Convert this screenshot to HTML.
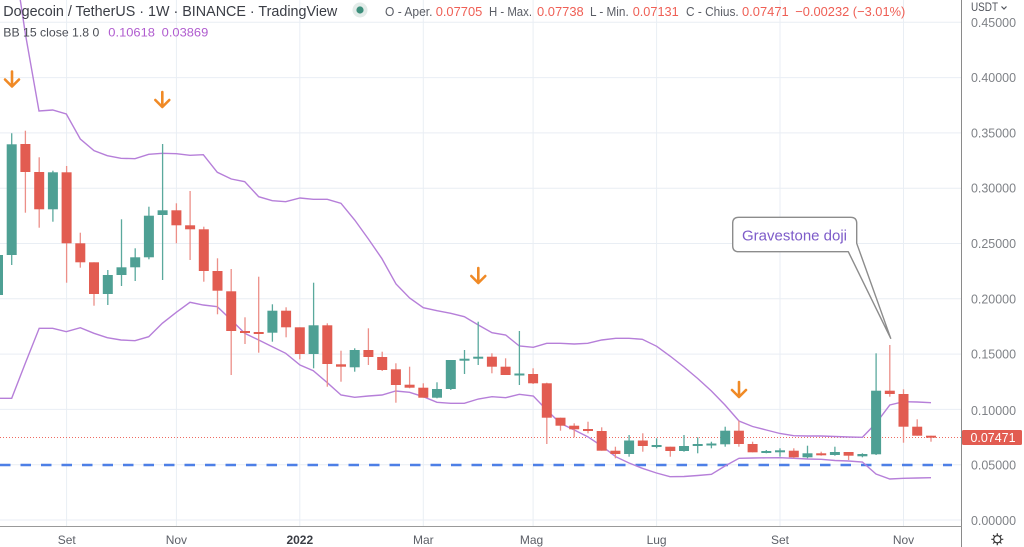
<!DOCTYPE html>
<html><head><meta charset="utf-8"><style>
html,body{margin:0;padding:0;background:#fff;}
svg{display:block;}
text{font-family:"Liberation Sans",Arial,sans-serif;}
</style></head><body>
<svg width="1024" height="547" viewBox="0 0 1024 547" xmlns="http://www.w3.org/2000/svg">
<rect width="1024" height="547" fill="#fff"/>
<!-- grid -->
<g stroke="#e9eef4" stroke-width="1">
<line x1="0" x2="961" y1="22.3" y2="22.3"/><line x1="0" x2="961" y1="77.6" y2="77.6"/>
<line x1="0" x2="961" y1="132.9" y2="132.9"/><line x1="0" x2="961" y1="188.2" y2="188.2"/>
<line x1="0" x2="961" y1="243.5" y2="243.5"/><line x1="0" x2="961" y1="298.8" y2="298.8"/>
<line x1="0" x2="961" y1="354.1" y2="354.1"/><line x1="0" x2="961" y1="409.4" y2="409.4"/>
<line x1="0" x2="961" y1="464.7" y2="464.7"/><line x1="0" x2="961" y1="520" y2="520"/>
<line x1="66.6" x2="66.6" y1="0" y2="526"/><line x1="176.4" x2="176.4" y1="0" y2="526"/>
<line x1="299.8" x2="299.8" y1="0" y2="526"/><line x1="423.3" x2="423.3" y1="0" y2="526"/>
<line x1="533.1" x2="533.1" y1="0" y2="526"/><line x1="656.6" x2="656.6" y1="0" y2="526"/>
<line x1="780" x2="780" y1="0" y2="526"/><line x1="903.5" x2="903.5" y1="0" y2="526"/>
</g>
<defs><clipPath id="c"><rect x="0" y="0" width="961" height="526"/></clipPath></defs>
<g clip-path="url(#c)">
<!-- blue dashed -->
<line x1="0" x2="952" y1="465" y2="465" stroke="#4d7fe6" stroke-width="2.5" stroke-dasharray="10.5 10"/>
<!-- current price dotted -->
<line x1="0" x2="961" y1="437.5" y2="437.5" stroke="#ef6a60" stroke-width="1" stroke-dasharray="1 2"/>
<!-- bands -->
<polyline fill="none" stroke="#b67fd9" stroke-width="1.4" points="-2,-150 11.7,-57 25.4,34 39,111 52.7,110 66.3,114 80.3,139 94,150.7 107.3,155.7 121,158.3 135,158.7 148.7,154.3 162.3,153.3 176.3,153.7 190,155.3 203.3,154.7 217.3,172.3 231.3,179 244.7,181.7 258.7,196.7 272.3,200.7 285.7,201.7 300,198 313.3,199.3 327.3,199.3 341,203.3 354.7,220 368.4,239 381.7,258.3 396,284 409.6,298 423.3,307.7 437,310.7 450.7,313.3 464.3,316.7 478.3,325 492,332.7 505.7,335 519.3,346 533.3,347.3 546.7,343.3 560.3,343.3 574.3,344 587.7,343.3 601.7,340 615.7,338.3 629,338.3 642.3,339.3 656.7,346.3 670,356 684,367 697.7,378.5 711.4,391 725,405 739,421 752.6,426.5 766.3,430 780,433.5 793.7,435.7 807.5,436 821.2,436 835,436.5 848.6,437 862.4,437.3 876,423.3 889.8,405 903.5,401.7 917.2,402 931,402.7"/>
<polyline fill="none" stroke="#b67fd9" stroke-width="1.4" points="-2,398.3 11.7,398.3 25.4,363 39.2,328.3 52.7,328.3 66.3,331.7 80.3,327.7 94,333.3 107.3,337.7 121,340 135,340.7 148.7,336.7 162.3,323.3 176.3,312.3 190,302.3 203.3,305 217.3,306.7 231.3,320 244.7,333.3 258.7,340 272.3,346.7 285.7,353.3 300,365 313.3,370.7 327.3,382.7 341,395 354.7,397.3 368.4,396 382,395 395.7,391 409.6,392.3 423.3,396.7 437,402.3 450.7,403.3 464.3,403.3 478.3,399 492,396.7 505.7,397.7 519.3,394.3 533.3,396 546.7,410 560.3,423.3 574.3,430 587.7,436.7 601.7,446 615.7,456.7 629,463 642.3,468.3 656.5,473 670,476.7 684,476.5 697.7,475.5 711.4,474.3 725,466 739,458.3 752.6,458 766.3,457.8 780,457.7 793.7,458.3 807.5,459 821.2,459.3 835,460.5 848.6,461 862.4,462 876,474 889.8,479 903.5,478.3 917.2,478 931,477.7"/>
<!-- red wicks -->
<g stroke="#ec8f88" stroke-width="1.3">
<line x1="25.4" x2="25.4" y1="130.7" y2="212.7"/><line x1="39.2" x2="39.2" y1="157.3" y2="227.7"/>
<line x1="66.6" x2="66.6" y1="166" y2="282.7"/><line x1="80.3" x2="80.3" y1="232.7" y2="267.7"/>
<line x1="94" x2="94" y1="262.3" y2="305.7"/><line x1="176.4" x2="176.4" y1="203.3" y2="243.3"/>
<line x1="190.1" x2="190.1" y1="191" y2="260"/><line x1="203.8" x2="203.8" y1="226.7" y2="281.7"/>
<line x1="217.5" x2="217.5" y1="258.3" y2="314.3"/><line x1="231.2" x2="231.2" y1="269" y2="375"/>
<line x1="245" x2="245" y1="317.3" y2="344"/><line x1="258.7" x2="258.7" y1="276.7" y2="352.7"/>
<line x1="286.1" x2="286.1" y1="307.3" y2="337.3"/><line x1="299.8" x2="299.8" y1="327.3" y2="359.3"/>
<line x1="327.3" x2="327.3" y1="323.3" y2="386.7"/><line x1="341" x2="341" y1="350.7" y2="381.7"/>
<line x1="368.4" x2="368.4" y1="328.3" y2="365"/><line x1="382.2" x2="382.2" y1="351.7" y2="371"/>
<line x1="395.9" x2="395.9" y1="363.3" y2="402.7"/><line x1="409.6" x2="409.6" y1="366.7" y2="388.3"/>
<line x1="423.3" x2="423.3" y1="383.3" y2="397.7"/><line x1="491.9" x2="491.9" y1="353.3" y2="373.3"/>
<line x1="505.6" x2="505.6" y1="358.3" y2="375"/><line x1="533.1" x2="533.1" y1="368.3" y2="384"/>
<line x1="546.8" x2="546.8" y1="382.7" y2="444"/><line x1="560.5" x2="560.5" y1="417.7" y2="430.7"/>
<line x1="574.2" x2="574.2" y1="423.3" y2="437.3"/><line x1="588" x2="588" y1="421.7" y2="433.3"/>
<line x1="601.7" x2="601.7" y1="427.3" y2="450.7"/><line x1="615.4" x2="615.4" y1="446.7" y2="458.3"/>
<line x1="642.8" x2="642.8" y1="433.3" y2="451.7"/><line x1="670.3" x2="670.3" y1="446.7" y2="456.7"/>
<line x1="738.9" x2="738.9" y1="420.7" y2="446.7"/><line x1="752.6" x2="752.6" y1="441.7" y2="452.3"/>
<line x1="793.8" x2="793.8" y1="448.3" y2="458.3"/><line x1="821.2" x2="821.2" y1="451.7" y2="455.7"/>
<line x1="848.6" x2="848.6" y1="452" y2="460"/><line x1="889.8" x2="889.8" y1="345" y2="396.7"/>
<line x1="903.5" x2="903.5" y1="389.3" y2="442.7"/><line x1="917.2" x2="917.2" y1="419.3" y2="435.7"/>
<line x1="931" x2="931" y1="435.7" y2="441.7"/>
</g>
<!-- green wicks -->
<g stroke="#5aa99d" stroke-width="1.3">
<line x1="-2" x2="-2" y1="250" y2="298"/><line x1="11.7" x2="11.7" y1="133.3" y2="265"/>
<line x1="52.9" x2="52.9" y1="170.7" y2="221.7"/><line x1="107.8" x2="107.8" y1="270" y2="305"/>
<line x1="121.5" x2="121.5" y1="219.3" y2="286"/><line x1="135.2" x2="135.2" y1="248.3" y2="281"/>
<line x1="148.9" x2="148.9" y1="206.7" y2="259.3"/><line x1="162.6" x2="162.6" y1="144" y2="280"/>
<line x1="272.4" x2="272.4" y1="304.3" y2="341.7"/><line x1="313.6" x2="313.6" y1="282.7" y2="368.3"/>
<line x1="354.7" x2="354.7" y1="348.3" y2="371.7"/><line x1="437" x2="437" y1="382.3" y2="398.3"/>
<line x1="450.8" x2="450.8" y1="360" y2="390"/><line x1="464.5" x2="464.5" y1="350" y2="374"/>
<line x1="478.2" x2="478.2" y1="321.7" y2="365"/><line x1="519.4" x2="519.4" y1="331" y2="385"/>
<line x1="629.1" x2="629.1" y1="435" y2="456.7"/><line x1="656.6" x2="656.6" y1="438.3" y2="448.3"/>
<line x1="684" x2="684" y1="435" y2="451.7"/><line x1="697.7" x2="697.7" y1="437.3" y2="453.3"/>
<line x1="711.4" x2="711.4" y1="441.7" y2="448.3"/><line x1="725.2" x2="725.2" y1="426.7" y2="446.7"/>
<line x1="766.3" x2="766.3" y1="450" y2="453.3"/><line x1="780" x2="780" y1="448.3" y2="456.7"/>
<line x1="807.5" x2="807.5" y1="445.7" y2="458.3"/><line x1="834.9" x2="834.9" y1="446.7" y2="455.7"/>
<line x1="862.4" x2="862.4" y1="453.3" y2="457.3"/><line x1="876.1" x2="876.1" y1="353.3" y2="455"/>
</g>
<!-- red bodies -->
<g fill="#e25c51">
<rect x="20.4" y="144" width="10" height="28"/><rect x="34.2" y="172" width="10" height="37.3"/>
<rect x="61.6" y="172.3" width="10" height="71"/><rect x="75.3" y="243.3" width="10" height="19"/>
<rect x="89" y="262.3" width="10" height="31.7"/><rect x="171.4" y="210.3" width="10" height="15"/>
<rect x="185.1" y="225.3" width="10" height="4"/><rect x="198.8" y="229.3" width="10" height="41.7"/>
<rect x="212.5" y="271" width="10" height="19.7"/><rect x="226.2" y="291.3" width="10" height="39.7"/>
<rect x="240" y="331" width="10" height="2"/><rect x="253.7" y="332" width="10" height="2"/>
<rect x="281.1" y="310.7" width="10" height="16.6"/><rect x="294.8" y="327.3" width="10" height="26.7"/>
<rect x="322.3" y="325.3" width="10" height="38.7"/><rect x="336" y="364.3" width="10" height="2.4"/>
<rect x="363.4" y="350" width="10" height="7"/><rect x="377.2" y="357" width="10" height="13"/>
<rect x="390.9" y="369.3" width="10" height="15.7"/><rect x="404.6" y="384.7" width="10" height="3"/>
<rect x="418.3" y="387.7" width="10" height="10"/><rect x="486.9" y="356.7" width="10" height="10"/>
<rect x="500.6" y="366.7" width="10" height="8.3"/><rect x="528.1" y="374" width="10" height="9.3"/>
<rect x="541.8" y="383.3" width="10" height="34.4"/><rect x="555.5" y="417.7" width="10" height="8"/>
<rect x="569.2" y="425.7" width="10" height="3.6"/><rect x="583" y="429" width="10" height="2"/>
<rect x="596.7" y="431" width="10" height="19.7"/><rect x="610.4" y="450.7" width="10" height="3.3"/>
<rect x="637.8" y="440.5" width="10" height="5.5"/><rect x="665.3" y="446.7" width="10" height="4.3"/>
<rect x="733.9" y="430.7" width="10" height="13.3"/><rect x="747.6" y="444" width="10" height="8.3"/>
<rect x="788.8" y="450.7" width="10" height="6.6"/><rect x="816.2" y="453.3" width="10" height="2"/>
<rect x="843.6" y="452" width="10" height="3.7"/><rect x="884.8" y="390.7" width="10" height="3.3"/>
<rect x="898.5" y="394" width="10" height="32.7"/><rect x="912.2" y="426.7" width="10" height="9"/>
<rect x="926" y="435.7" width="10" height="2"/>
</g>
<!-- green bodies -->
<g fill="#4ea094">
<rect x="-7" y="255" width="10" height="40"/><rect x="6.7" y="144.3" width="10" height="110.7"/>
<rect x="47.9" y="172.3" width="10" height="37"/><rect x="102.8" y="275" width="10" height="19"/>
<rect x="116.5" y="267.3" width="10" height="7.7"/><rect x="130.2" y="257.3" width="10" height="10"/>
<rect x="143.9" y="215.7" width="10" height="41.6"/><rect x="157.6" y="210.3" width="10" height="4.7"/>
<rect x="267.4" y="310.7" width="10" height="22"/><rect x="308.6" y="325.3" width="10" height="28.7"/>
<rect x="349.7" y="350" width="10" height="17.3"/><rect x="432" y="389" width="10" height="8.7"/>
<rect x="445.8" y="360" width="10" height="29"/><rect x="459.5" y="358.7" width="10" height="2"/>
<rect x="473.2" y="356.7" width="10" height="2"/><rect x="514.4" y="373.5" width="10" height="2"/>
<rect x="624.1" y="440.5" width="10" height="13.5"/><rect x="651.6" y="445" width="10" height="2"/>
<rect x="679" y="446" width="10" height="5"/><rect x="692.7" y="444" width="10" height="2"/>
<rect x="706.4" y="443.5" width="10" height="2"/><rect x="720.2" y="430.7" width="10" height="13.6"/>
<rect x="761.3" y="451" width="10" height="2"/><rect x="775" y="450.3" width="10" height="2"/>
<rect x="802.5" y="453.3" width="10" height="4"/><rect x="829.9" y="452" width="10" height="3"/>
<rect x="857.4" y="454" width="10" height="2.3"/><rect x="871.1" y="390.7" width="10" height="63.6"/>
</g>
<!-- orange arrows -->
<g fill="none" stroke="#f08a26" stroke-width="2.6" stroke-linecap="round" stroke-linejoin="round">
<path d="M12 71.5 V86 M5 79.5 L12 86.5 L19 79.5"/>
<path d="M162.3 92 V106.5 M155.3 100 L162.3 107 L169.3 100"/>
<path d="M478.3 268 V282.5 M471.3 276 L478.3 283 L485.3 276"/>
<path d="M739 382 V396.5 M732 390 L739 397 L746 390"/>
</g>
<!-- callout -->
<path d="M738.7 217.3 H850.7 Q856.7 217.3 856.7 223.3 V243.3 L890.7 338.3 L848.3 251.7 H738.7 Q732.7 251.7 732.7 245.7 V223.3 Q732.7 217.3 738.7 217.3 Z" fill="#fff" stroke="#8c8c8c" stroke-width="1.4" stroke-linejoin="round"/>
<text x="742" y="240.5" font-size="15" fill="#7d5bc9" textLength="105" lengthAdjust="spacingAndGlyphs">Gravestone doji</text>
</g>
<!-- axes lines -->
<line x1="961.5" x2="961.5" y1="0" y2="547" stroke="#8a8a8a" stroke-width="1"/>
<line x1="0" x2="961.5" y1="526.5" y2="526.5" stroke="#9a9a9a" stroke-width="1"/>
<!-- right axis labels -->
<g font-size="12.5" fill="#7f8287">
<text x="971" y="26.8" textLength="45" lengthAdjust="spacingAndGlyphs">0.45000</text>
<text x="971" y="82.1" textLength="45" lengthAdjust="spacingAndGlyphs">0.40000</text>
<text x="971" y="137.4" textLength="45" lengthAdjust="spacingAndGlyphs">0.35000</text>
<text x="971" y="192.7" textLength="45" lengthAdjust="spacingAndGlyphs">0.30000</text>
<text x="971" y="248" textLength="45" lengthAdjust="spacingAndGlyphs">0.25000</text>
<text x="971" y="303.3" textLength="45" lengthAdjust="spacingAndGlyphs">0.20000</text>
<text x="971" y="358.6" textLength="45" lengthAdjust="spacingAndGlyphs">0.15000</text>
<text x="971" y="415" textLength="45" lengthAdjust="spacingAndGlyphs">0.10000</text>
<text x="971" y="469.5" textLength="45" lengthAdjust="spacingAndGlyphs">0.05000</text>
<text x="971" y="525" textLength="45" lengthAdjust="spacingAndGlyphs">0.00000</text>
</g>
<rect x="962" y="430" width="60" height="15" rx="1.5" fill="#e25c51"/>
<text x="970.5" y="442" font-size="12.5" fill="#fff" textLength="45" lengthAdjust="spacingAndGlyphs">0.07471</text>
<text x="971" y="11" font-size="12" fill="#50535b" textLength="27" lengthAdjust="spacingAndGlyphs">USDT</text>
<path d="M1001.5 6.5 L1004 9 L1006.5 6.5" fill="none" stroke="#50535b" stroke-width="1.2"/>
<!-- gear -->
<g transform="translate(997.3 539.3)" stroke="#333" stroke-width="1.2" fill="none">
<circle r="3.6"/>
<path d="M0 -6 V-3.8 M0 6 V3.8 M-6 0 H-3.8 M6 0 H3.8 M-4.2 -4.2 L-2.7 -2.7 M4.2 4.2 L2.7 2.7 M-4.2 4.2 L-2.7 2.7 M4.2 -4.2 L2.7 -2.7"/>
</g>
<!-- bottom labels -->
<g font-size="12" fill="#5d6068" text-anchor="middle">
<text x="66.7" y="544">Set</text>
<text x="176.4" y="544">Nov</text>
<text x="299.8" y="544" font-weight="bold" fill="#3b3e45">2022</text>
<text x="423.3" y="544">Mar</text>
<text x="531.5" y="544">Mag</text>
<text x="656.6" y="544">Lug</text>
<text x="780" y="544">Set</text>
<text x="903.5" y="544">Nov</text>
</g>
<!-- header -->
<text x="3.3" y="16" font-size="14.5" fill="#3a3d45" textLength="334" lengthAdjust="spacingAndGlyphs">Dogecoin / TetherUS · 1W · BINANCE · TradingView</text>
<circle cx="360" cy="10" r="7.5" fill="#e3ece9"/>
<circle cx="360" cy="10" r="3.6" fill="#3d8f7c"/>
<g font-size="13" fill="#5a5d65">
<text x="385" y="16" textLength="47.5" lengthAdjust="spacingAndGlyphs">O - Aper.</text>
<text x="489" y="16" textLength="43" lengthAdjust="spacingAndGlyphs">H - Max.</text>
<text x="590" y="16" textLength="38.7" lengthAdjust="spacingAndGlyphs">L - Min.</text>
<text x="686" y="16" textLength="52.7" lengthAdjust="spacingAndGlyphs">C - Chius.</text>
</g>
<g font-size="13" fill="#ef5f55">
<text x="435.7" y="16" textLength="46.6" lengthAdjust="spacingAndGlyphs">0.07705</text>
<text x="537" y="16" textLength="46.7" lengthAdjust="spacingAndGlyphs">0.07738</text>
<text x="632.7" y="16" textLength="46" lengthAdjust="spacingAndGlyphs">0.07131</text>
<text x="742" y="16" textLength="46.7" lengthAdjust="spacingAndGlyphs">0.07471</text>
<text x="795.3" y="16" textLength="110" lengthAdjust="spacingAndGlyphs">−0.00232 (−3.01%)</text>
</g>
<text x="3.3" y="36.5" font-size="12" fill="#4a4d55" textLength="96" lengthAdjust="spacingAndGlyphs">BB 15 close 1.8 0</text>
<text x="108.3" y="36.5" font-size="12" fill="#b05ccf" textLength="46.7" lengthAdjust="spacingAndGlyphs">0.10618</text>
<text x="161.7" y="36.5" font-size="12" fill="#b05ccf" textLength="46.6" lengthAdjust="spacingAndGlyphs">0.03869</text>
</svg>
</body></html>
